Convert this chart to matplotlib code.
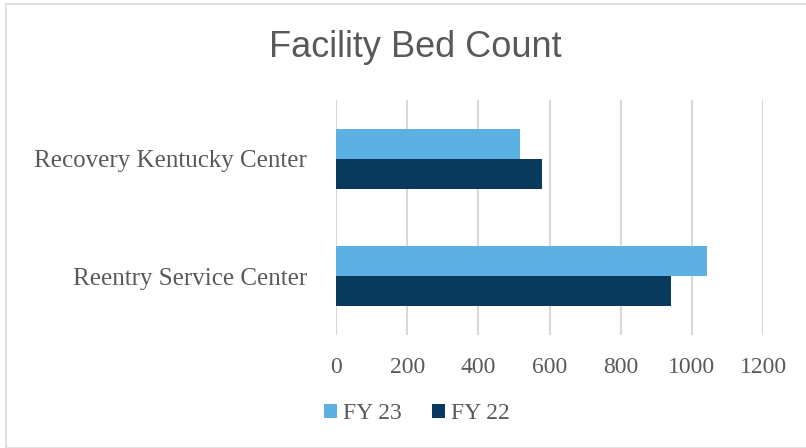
import matplotlib.pyplot as plt
import numpy as np
from matplotlib.patches import Rectangle

categories = ["Reentry Service Center", "Recovery Kentucky Center"]
fy23 = [1043, 516]
fy22 = [941, 578]
x_ticks = [0, 200, 400, 600, 800, 1000, 1200]

c23 = "#5DB0E2"
c22 = "#093A5E"
grey = "#595959"
serif = ["Liberation Serif", "DejaVu Serif"]

fig = plt.figure(figsize=(8.06, 4.48), dpi=100)
ax = fig.add_axes([336 / 806, 113 / 448, 427 / 806, 235 / 448])

y = np.arange(len(categories))
h = 0.255
ax.barh(y + h / 2, fy23, height=h, color=c23, label="FY 23", zorder=3)
ax.barh(y - h / 2, fy22, height=h, color=c22, label="FY 22", zorder=3)

ax.set_xlim(0, 1200)
ax.set_ylim(-0.5, 1.5)
ax.set_xticks(x_ticks)
ax.set_xticklabels([str(t) for t in x_ticks], family=serif, fontsize=17, color=grey)
ax.set_yticks(y)
ax.set_yticklabels(categories, family=serif, fontsize=18, color=grey)
ax.tick_params(axis="x", length=0, pad=16)
ax.tick_params(axis="y", length=0, pad=21)
ax.grid(axis="x", color="#d9d9d9", linewidth=1.5, zorder=0)
for s in ax.spines.values():
    s.set_visible(False)

fig.text(0.515, 0.894, "Facility Bed Count", ha="center", va="center",
         family="Liberation Sans", fontsize=26, color=grey)

handles, labels = ax.get_legend_handles_labels()
fig.legend(handles, labels, loc="center", bbox_to_anchor=(0.517, 0.077), ncol=2,
           frameon=False, prop={"family": serif, "size": 17}, labelcolor=grey,
           handlelength=0.55, handleheight=0.55, handletextpad=0.25, columnspacing=1.3)

fig.patches.append(Rectangle((6 / 806, 0), 1, 1 - 4 / 448, transform=fig.transFigure,
                             fill=False, edgecolor="#d9d9d9", linewidth=1.2))

fig.savefig("out.png", dpi=100)
